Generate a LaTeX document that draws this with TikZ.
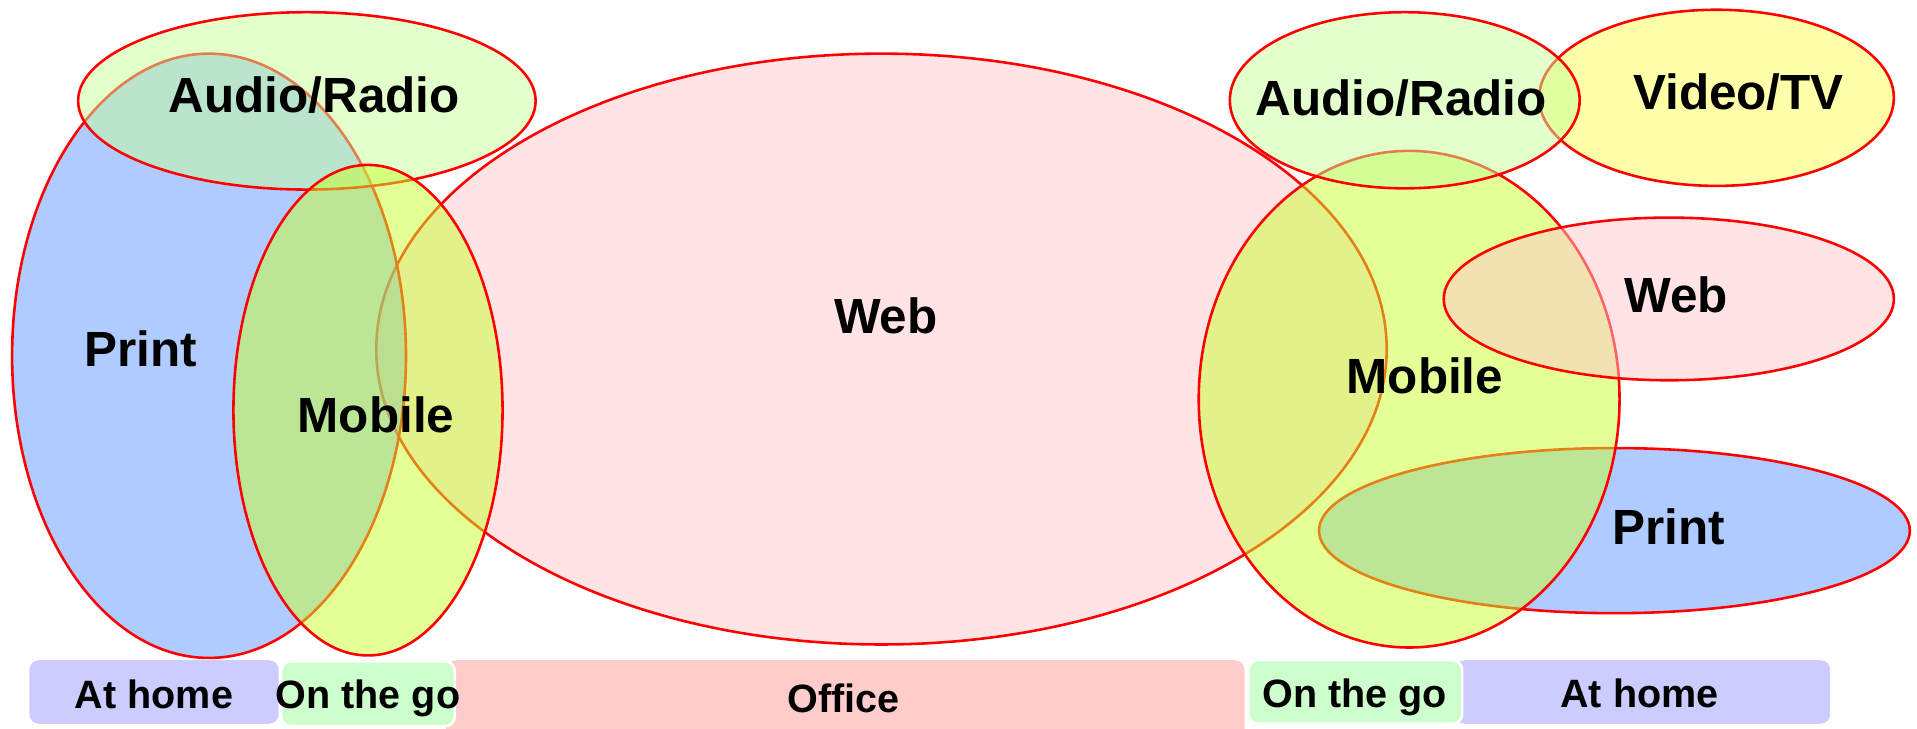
\documentclass[tikz,border=0pt]{standalone}
\usepackage{fontspec}
\setmainfont{Liberation Sans}
\usetikzlibrary{shapes.geometric}
\definecolor{cPrint}{RGB}{97,151,255}
\definecolor{cAudio}{RGB}{197,255,153}
\definecolor{cMobile}{RGB}{201,255,45}
\definecolor{cWeb}{RGB}{255,199,203}
\definecolor{cVideo}{RGB}{255,255,85}
\definecolor{cHome}{RGB}{204,204,255}
\definecolor{cGo}{RGB}{204,255,204}
\definecolor{cOffice}{RGB}{255,204,204}
\tikzset{
  ell/.style={ellipse, draw=red, line width=0.6pt, fill opacity=0.5, draw opacity=1, inner sep=0pt, outer sep=0pt},
  lbl/.style={font=\bfseries\fontsize{11.5}{13}\selectfont, text=black, inner sep=0pt},
  bar/.style={rounded corners=0.08cm, inner sep=0pt, outer sep=0pt},
  barlbl/.style={font=\bfseries\fontsize{9.2}{11}\selectfont, text=black, inner sep=0pt},
}
\begin{document}
\begin{tikzpicture}[x=0.01cm,y=-0.01cm]
\useasboundingbox (0,0) rectangle (1568,596);
% ellipses, drawn bottom to top
\node[ell, fill=cWeb, minimum width=8.26cm, minimum height=4.83cm] (webL) at (721,285.5) {};
\node[ell, fill=cPrint, minimum width=3.22cm, minimum height=4.94cm] (printL) at (171,291) {};
\node[ell, fill=cAudio, minimum width=3.74cm, minimum height=1.45cm] (audioL) at (251,82.5) {};
\node[ell, fill=cMobile, minimum width=2.20cm, minimum height=4.01cm] (mobileL) at (301,335.5) {};
\node[ell, fill=cPrint, minimum width=4.83cm, minimum height=1.35cm] (printR) at (1320.5,434) {};
\node[ell, fill=cVideo, minimum width=2.90cm, minimum height=1.44cm] (videoR) at (1404,80) {};
\node[ell, fill=cMobile, minimum width=3.44cm, minimum height=4.06cm] (mobileR) at (1152.6,326.5) {};
\node[ell, fill=cAudio, minimum width=2.86cm, minimum height=1.44cm] (audioR) at (1149,82) {};
\node[ell, fill=cWeb, minimum width=3.68cm, minimum height=1.33cm] (webR) at (1365,244.5) {};
% labels
\node[lbl] (tAudioL) at (257,78) {Audio/Radio};
\node[lbl] (tPrintL) at (115,285) {Print};
\node[lbl] (tMobileL) at (307.5,339) {Mobile};
\node[lbl] (tWebL) at (724.5,258) {Web};
\node[lbl] (tAudioR) at (1146,80) {Audio/Radio};
\node[lbl] (tVideoR) at (1422,75) {Video/TV};
\node[lbl] (tWebR) at (1371,241) {Web};
\node[lbl] (tMobileR) at (1165.5,307.5) {Mobile};
\node[lbl] (tPrintR) at (1365,431) {Print};
% bottom bars
\fill[bar, cOffice] (365,540) rectangle (1018,604);
\fill[bar, cHome] (24,540) rectangle (228,592);
\fill[bar, cHome] (1190,540) rectangle (1497,592);
\filldraw[bar, fill=cGo, draw=white, line width=0.6pt] (230,541) rectangle (372,594);
\filldraw[bar, fill=cGo, draw=white, line width=0.6pt] (1021,540) rectangle (1196,592);
\node[barlbl] (bHomeL) at (126,568) {At home};
\node[barlbl] (bGoL) at (301,571) {On the go};
\node[barlbl] (bOffice) at (690,571) {Office};
\node[barlbl] (bGoR) at (1108,570) {On the go};
\node[barlbl] (bHomeR) at (1341,567) {At home};
\end{tikzpicture}
\end{document}
